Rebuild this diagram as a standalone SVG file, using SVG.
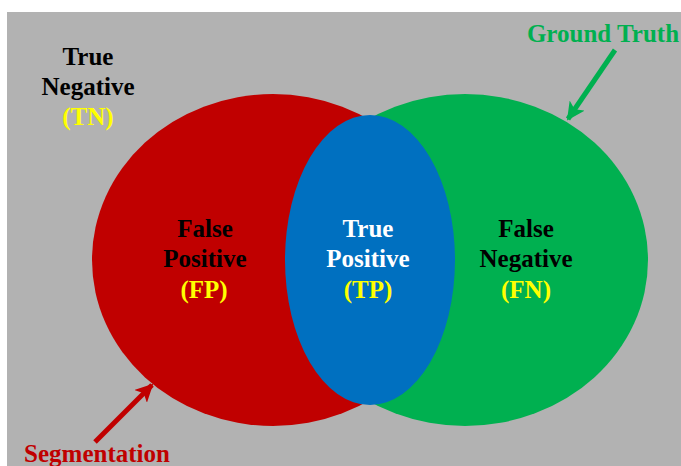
<svg xmlns="http://www.w3.org/2000/svg" width="681" height="466" viewBox="0 0 681 466">
<defs>
<style>
text{font-family:"Liberation Serif","Times New Roman",serif;font-weight:bold;font-size:25px;text-anchor:middle}
.k{fill:#000}.w{fill:#fff}.y{fill:#ffff00}
</style>
<marker id="ag" viewBox="0 0 10 10" refX="9" refY="5" markerWidth="3.6" markerHeight="3.6" orient="auto" markerUnits="strokeWidth"><path d="M0,0 L10,5 L0,10 L2.5,5 Z" fill="#00b050"/></marker>
<marker id="ar" viewBox="0 0 10 10" refX="9" refY="5" markerWidth="3.6" markerHeight="3.6" orient="auto" markerUnits="strokeWidth"><path d="M0,0 L10,5 L0,10 L2.5,5 Z" fill="#c00000"/></marker>
</defs>
<rect x="0" y="0" width="681" height="466" fill="#fff"/>
<rect x="7" y="12" width="674" height="454" fill="#b2b2b2"/>
<g id="ground-truth">
<ellipse cx="465" cy="260" rx="183" ry="166" fill="#00b050"/>
<text class="k" x="526" y="237">False</text>
<text class="k" x="526" y="267">Negative</text>
<text class="y" x="526" y="298">(FN)</text>
</g>
<g id="segmentation">
<ellipse cx="273" cy="260" rx="181" ry="166" fill="#c00000"/>
<text class="k" x="205" y="237">False</text>
<text class="k" x="205" y="267">Positive</text>
<text class="y" x="204" y="298">(FP)</text>
</g>
<g id="true-positive">
<ellipse cx="370" cy="260" rx="85" ry="145" fill="#0070c0"/>
<text class="w" x="368" y="237">True</text>
<text class="w" x="368" y="267">Positive</text>
<text class="y" x="368" y="298">(TP)</text>
</g>
<g id="true-negative">
<text class="k" x="88" y="65">True</text>
<text class="k" x="88" y="95">Negative</text>
<text class="y" x="88" y="125">(TN)</text>
</g>
<g id="label-ground-truth">
<text x="603" y="42" fill="#00b050">Ground Truth</text>
</g>
<g id="label-segmentation">
<text x="97" y="462" fill="#c00000">Segmentation</text>
</g>
<g id="connectors">
<line x1="615" y1="50" x2="568" y2="119" stroke="#00b050" stroke-width="5" marker-end="url(#ag)"/>
<line x1="95" y1="442" x2="152" y2="385" stroke="#c00000" stroke-width="5" marker-end="url(#ar)"/>
</g>
</svg>
